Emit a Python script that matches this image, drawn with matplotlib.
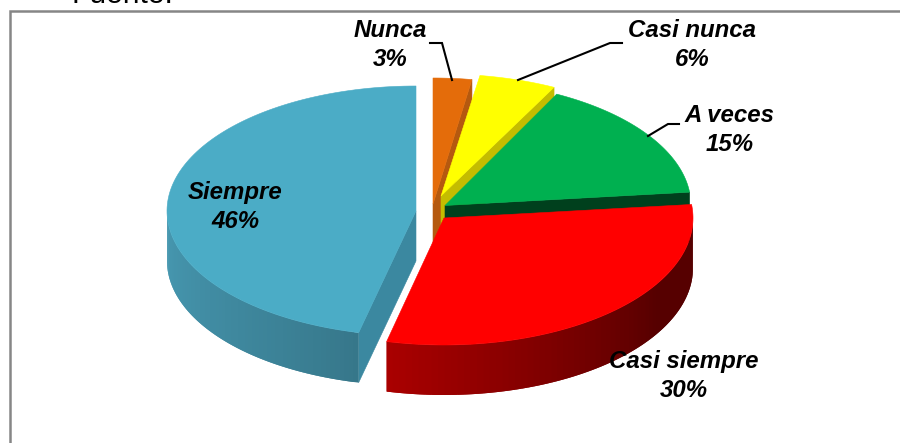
import numpy as np
import matplotlib
matplotlib.use("Agg")
import matplotlib.pyplot as plt
from matplotlib.colors import to_rgb

# Data
categories = ["Nunca", "Casi nunca", "A veces", "Casi siempre", "Siempre"]
label_percent = [3, 6, 15, 30, 46]
# Apparent shares of the drawn slices (the 3-D view distorts them slightly)
slice_shares = [2.5, 5.0, 15.8, 30.4, 46.3]

# Styling and layout
top_colors = ["#E46C0A", "#FFFF00", "#00B050", "#FF0000", "#4BACC6"]
cut_colors = ["#B5590F", "#C4BC00", "#00401D", "#8A0000", "#3B88A0"]
wall_right = ["#B5590F", "#C4BC00", "#00401D", "#560000", "#367689"]
wall_left = ["#B5590F", "#C4BC00", "#00401D", "#AA0000", "#4799B2"]
centers = [(433, 204), (441, 196), (445, 205.5), (444, 218), (416, 211)]
radii = [(249, 126), (249, 122), (246, 125), (249, 127), (249, 125)]
depth = 50
label_pos = [(390, 45), (692, 45), (730, 130), (684, 376), (235, 207)]
leaders = [
    [(452, 80), (442, 43), (430, 43)],
    [(518, 80), (610, 43), (622, 43)],
    [(648, 136), (668, 124), (679, 124)],
]

fig = plt.figure(figsize=(9.0, 4.43), dpi=100, facecolor="white")
ax = fig.add_axes([0, 0, 1, 1])
ax.set_xlim(0, 900)
ax.set_ylim(443, 0)
ax.axis("off")


def rim(c, r, theta):
    return c[0] + r[0] * np.sin(theta), c[1] - r[1] * np.cos(theta)


def shade(a, b, t):
    a, b = np.array(to_rgb(a)), np.array(to_rgb(b))
    return tuple(a + (b - a) * t)


edges = np.radians(np.concatenate([[0], np.cumsum(slice_shares)]) * 3.6)
order = [4, 0, 1, 2, 3]  # back to front

for i in order:
    c, r = centers[i], radii[i]
    t0, t1 = edges[i], edges[i + 1]
    z = 2 + order.index(i)
    # visible cut face
    tc = t0 if i == 4 else t1
    ex, ey = rim(c, r, tc)
    if i != 3:
        ax.fill([c[0], ex, ex, c[0]], [c[1], ey, ey + depth, c[1] + depth],
                color=cut_colors[i], lw=0.4, zorder=z)
    # outer wall (front half only); each strip overlaps the next, so no seams show
    lo, hi = max(t0, np.pi / 2), min(t1, 3 * np.pi / 2)
    if hi > lo:
        steps = np.linspace(lo, hi, 70)
        for k in range(len(steps) - 1):
            arc = steps[k:k + 3]
            xs, ys = rim(c, r, arc)
            frac = (k + 0.5) / (len(steps) - 1)
            if i == 4:
                col = shade(wall_right[i], wall_left[i], frac ** 0.8)
            else:
                col = shade(wall_right[i], wall_left[i], max(0, frac - 0.3) / 0.7)
            ax.fill(np.r_[xs, xs[::-1]], np.r_[ys, ys[::-1] + depth],
                    color=col, lw=0, zorder=z)
    # top face
    th = np.linspace(t0, t1, 120)
    xs, ys = rim(c, r, th)
    ax.fill(np.r_[c[0], xs], np.r_[c[1], ys], color=top_colors[i], lw=0.4, zorder=z)

# Chart area border (top and left only are in view)
ax.plot([10, 10, 900], [443, 11, 11], color="#868686", lw=1.8, zorder=1,
        solid_joinstyle="miter", clip_on=False)

# Clipped caption above the chart
ax.text(71, 3, "Fuente:", family="Liberation Sans", fontsize=21.5, color="black",
        ha="left", va="baseline", zorder=8)

# Leader lines
for pts in leaders:
    xs, ys = zip(*pts)
    ax.plot(xs, ys, color="black", lw=1.5, zorder=9, solid_joinstyle="miter")

# Data labels
for name, pct, (lx, ly) in zip(categories, label_percent, label_pos):
    ax.text(lx, ly, f"{name}\n{pct}%", family="Liberation Sans", fontsize=17.3,
            fontweight="bold", fontstyle="italic", color="black", ha="center",
            va="center", linespacing=1.3, zorder=10)

fig.savefig("out.png", dpi=100)
